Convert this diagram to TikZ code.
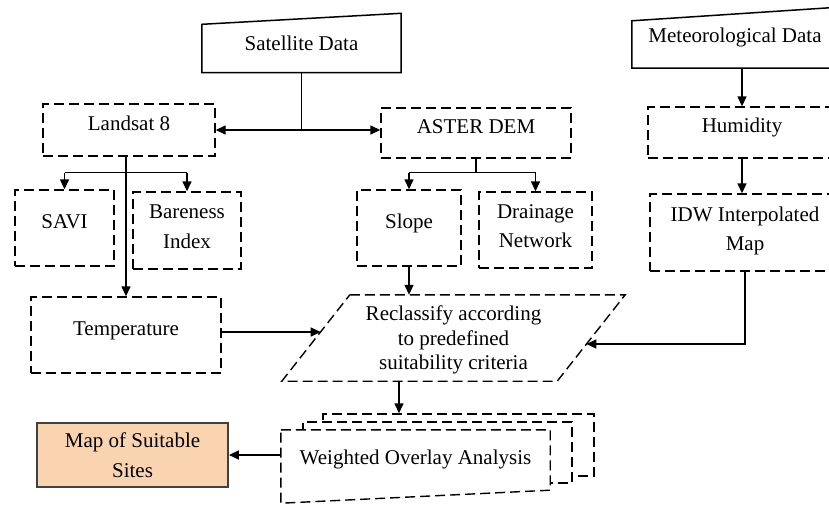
\documentclass[tikz,border=0pt]{standalone}
\usepackage{fontspec}
\setmainfont{Liberation Serif}
\usetikzlibrary{arrows.meta,calc,backgrounds}
\definecolor{mapc}{RGB}{250,212,176}
\begin{document}
\begin{tikzpicture}[x=1pt,y=-1pt,
  every node/.style={font=\fontsize{21}{29.5}\selectfont, inner sep=0pt, align=center, text=black},
  dbox/.style={draw, dash pattern=on 10pt off 5pt, line width=1.4pt},
  onel/.style={text height=14pt, text depth=14pt},
  twol/.style={text depth=8pt},
  arr/.style={-{Triangle[length=10pt,width=9pt]}, line width=1.4pt},
  ln/.style={line width=1.4pt},
  sbox/.style={line width=1.5pt}
]
\useasboundingbox (0,0) rectangle (829,504);
\clip (0,0) rectangle (829,504);

% input boxes
\node[minimum width=199pt, minimum height=59pt] (sat) at (301.5,43) {Satellite Data};
\draw[sbox] (sat.south west) -- ([yshift=-11pt]sat.north west) -- (sat.north east) -- (sat.south east) -- cycle;
\node[minimum width=206pt, minimum height=60.6pt] (met) at (735,37.7) {Meteorological Data};
\draw[sbox] (met.south west) -- ([yshift=-13.6pt]met.north west) -- (met.north east) -- (met.south east) -- cycle;

% dashed boxes
\node[dbox, onel, minimum width=172pt, minimum height=52pt] (land) at (129,130) {Landsat 8};
\node[dbox, onel, minimum width=190pt, minimum height=50pt] (aster) at (476,133) {ASTER DEM};
\node[dbox, onel, minimum width=188pt, minimum height=51pt] (hum) at (742,132.5) {Humidity};
\node[dbox, twol, minimum width=190pt, minimum height=77pt] (idw) at (745,232.5) {IDW Interpolated\\Map};
\node[dbox, onel, minimum width=99pt, minimum height=76pt] (savi) at (64.5,228) {SAVI};
\node[dbox, twol, minimum width=108pt, minimum height=77pt] (bare) at (187,230.5) {Bareness\\Index};
\node[dbox, onel, minimum width=104pt, minimum height=76pt] (slope) at (409,228) {Slope};
\node[dbox, twol, minimum width=113pt, minimum height=76pt] (drain) at (535.5,230) {Drainage\\Network};
\node[dbox, onel, minimum width=190pt, minimum height=76pt] (temp) at (126,335) {Temperature};

% reclassify parallelogram
\node[font=\fontsize{21}{24.5}\selectfont, text depth=0pt, minimum width=275pt, minimum height=86pt] (recl) at (453.5,338)
  {Reclassify according\\to predefined\\suitability criteria};
\draw[dbox] ([xshift=34pt]recl.north west) -- ([xshift=34pt]recl.north east) -- ([xshift=-34pt]recl.south east) -- ([xshift=-34pt]recl.south west) -- cycle;
\coordinate (rl) at (320.7,332);
\coordinate (rr) at (586.3,344);

% weighted overlay stack
\node[minimum width=269pt, minimum height=60pt, text height=14pt, text depth=6pt] (wfront) at (415.5,460) {Weighted Overlay Analysis};
\begin{scope}[on background layer]
  \fill[white] (0,0) rectangle (829,504);
  \node[dbox, fill=white, minimum width=271pt, minimum height=62pt] (wback) at (458.5,445) {};
  \node[dbox, fill=white, minimum width=269pt, minimum height=61pt] (wmid) at (437.5,452.5) {};
  \draw[dbox, fill=white] (wfront.north west) -- (wfront.north east) -- (wfront.south east) -- ([yshift=-13pt]wfront.south west) -- cycle;
\end{scope}

% result
\node[draw=black!75, fill=mapc, line width=1.8pt, text depth=0pt, minimum width=191pt, minimum height=64pt] (map) at (132.5,455) {Map of Suitable\\Sites};

% connectors
\coordinate (j1) at (sat.south |- land.east);
\draw[ln] (sat.south) -- (j1);
\draw[arr] (j1) -- (land.east);
\draw[arr] (j1) -- (j1 -| aster.west);

\draw[arr] (met.south -| hum.north) -- (hum.north);
\draw[arr] (hum.south) -- (hum.south |- idw.north);
\draw[arr] (idw.south) |- (rr);

\draw[arr] (temp.north |- land.south) -- (temp.north);
\coordinate (lb) at ($(temp.north |- land.south)+(0,16)$);
\draw[ln] (lb -| savi.north) -- (lb -| bare.north);
\draw[arr] (lb -| savi.north) -- (savi.north);
\draw[arr] (lb -| bare.north) -- (bare.north);

\coordinate (ab) at ($(aster.south)+(0,14)$);
\draw[ln] (aster.south) -- (ab);
\draw[ln] (ab -| slope.north) -- (ab -| drain.north);
\draw[arr] (ab -| slope.north) -- (slope.north);
\draw[arr] (ab -| drain.north) -- (drain.north);

\draw[arr] (slope.south) -- (slope.south |- recl.north);
\draw[arr] (temp.east |- rl) -- (rl);
\coordinate (rb) at ([xshift=-54.5pt]recl.south);
\draw[arr] (rb) -- (rb |- wback.north);
\draw[arr] (wfront.west |- map.east) -- (map.east);
\end{tikzpicture}
\end{document}
